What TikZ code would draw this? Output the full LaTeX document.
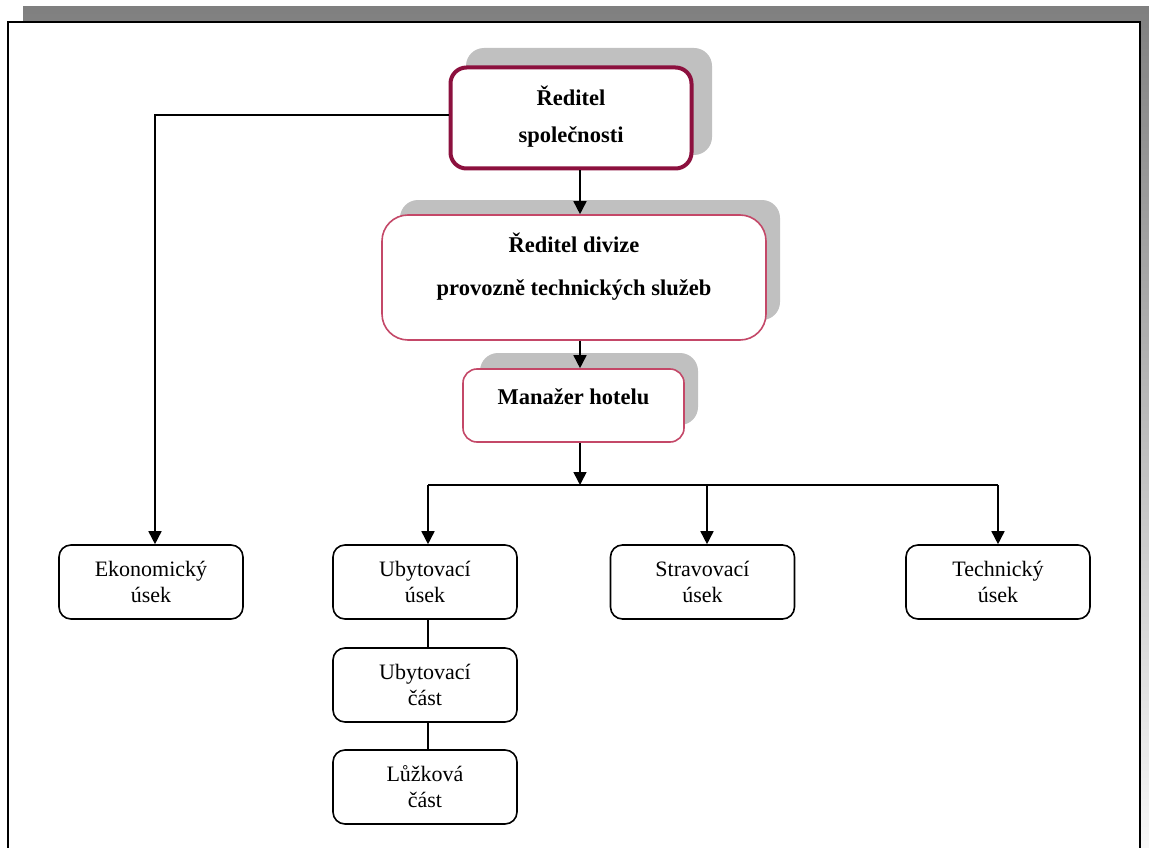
\documentclass[tikz,border=0pt]{standalone}
\usepackage{fontspec}
\setmainfont{Liberation Serif}
\usetikzlibrary{arrows.meta}
\definecolor{maroon}{RGB}{140,16,62}
\definecolor{rosered}{RGB}{196,72,104}
\definecolor{shade}{RGB}{192,192,192}
\tikzset{
  conn/.style={line width=1.6pt, draw=black},
  arr/.style={conn, -{Triangle[width=13pt,length=13pt]}},
  shadowbox/.style={fill=shade, rounded corners=18pt},
  unitbox/.style={draw=black, line width=1.6pt, fill=white, rounded corners=12pt,
    minimum width=184pt, minimum height=74pt, inner sep=0pt, align=center,
    font=\fontsize{22}{26}\selectfont},
  headtext/.style={inner sep=0pt, align=center, font=\bfseries\fontsize{22.5}{37}\selectfont},
}
\begin{document}
\begin{tikzpicture}[x=1pt,y=-1pt]
\useasboundingbox (0,0) rectangle (1149,848);
\clip (0,0) rectangle (1149,848);
% page frame with shadow
\fill[shade] (23,7) rectangle (1160,900);
\draw[fill=white, line width=1.8pt] (8,22) rectangle (1140,900);

% shadows of the head boxes
\fill[shadowbox] (466,48) rectangle (712,155);
\fill[shadowbox] (400,200) rectangle (780,320);
\fill[shadowbox] (480,353) rectangle (698,425);

% head boxes
\node[draw=maroon, line width=4pt, fill=white, rounded corners=16pt,
      minimum width=241pt, minimum height=101pt, inner sep=0pt] (rs) at (571,118) {};
\node[headtext] (rst) at (571,116.5) {Ředitel\\společnosti};

\node[draw=rosered, line width=1.6pt, fill=white, rounded corners=26pt,
      minimum width=384pt, minimum height=125pt, inner sep=0pt] (div) at (574,277.5) {};
\node[headtext, font=\bfseries\fontsize{22.5}{43}\selectfont] (divt) at (574,266.5) {Ředitel divize\\provozně technických služeb};

\node[draw=rosered, line width=1.6pt, fill=white, rounded corners=14pt,
      minimum width=221pt, minimum height=73pt, inner sep=0pt] (man) at (573.5,405.5) {};
\node[headtext] (mant) at (573.5,397) {Manažer hotelu};

% unit boxes
\node[unitbox] (eko) at (151,582) {Ekonomický\\úsek};
\node[unitbox] (ubs) at (425,582) {Ubytovací\\úsek};
\node[unitbox] (str) at (702.5,582) {Stravovací\\úsek};
\node[unitbox] (tec) at (998,582) {Technický\\úsek};
\node[unitbox] (ubc) at (425,685) {Ubytovací\\část};
\node[unitbox] (luz) at (425,787) {Lůžková\\část};

% connectors
\coordinate (spine) at (580,0);
\coordinate (bus) at (580,485);
\draw[arr] ([yshift=3pt]rs.west) -| ([xshift=4pt]eko.north);
\draw[arr] (rs.south -| spine) -- (div.north -| spine);
\draw[arr] (div.south -| spine) -- (man.north -| spine);
\draw[arr] (man.south -| bus) -- (bus);
\draw[conn] ([xshift=3pt]ubs.north |- bus) -- (tec.north |- bus);
\draw[arr] ([xshift=3pt]ubs.north |- bus) -- ([xshift=3pt]ubs.north);
\draw[arr] ([xshift=4.5pt]str.north |- bus) -- ([xshift=4.5pt]str.north);
\draw[arr] (tec.north |- bus) -- (tec.north);
\draw[conn] ([xshift=3pt]ubs.south) -- ([xshift=3pt]ubc.north);
\draw[conn] ([xshift=3pt]ubc.south) -- ([xshift=3pt]luz.north);
\end{tikzpicture}
\end{document}
